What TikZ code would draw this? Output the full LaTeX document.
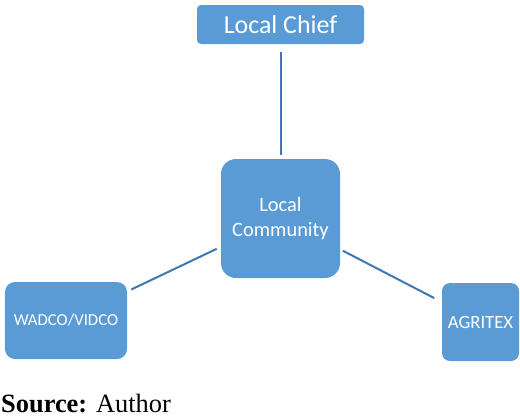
\documentclass[tikz,border=0pt]{standalone}
\usepackage{fontspec}
\setmainfont{Liberation Serif}
\newfontfamily\boxfont{Carlito}
\definecolor{boxblue}{HTML}{5B9BD5}
\definecolor{lineblue}{HTML}{3F77B3}
\begin{document}
\begin{tikzpicture}[x=1bp, y=-1bp]
    \tikzstyle{box}=[fill=boxblue, text=white, inner sep=0pt, align=center, font=\boxfont]
    \tikzstyle{link}=[draw=lineblue, line width=2bp]

    \useasboundingbox (0,0) rectangle (520,417);

    \node[box, rounded corners=4bp, minimum width=167bp, minimum height=39bp,
          font=\boxfont\fontsize{26}{30}\selectfont] (chief) at (280.5, 24.5) {Local Chief};
    \node[box, rounded corners=15bp, minimum width=119bp, minimum height=119bp,
          font=\boxfont\fontsize{20.5}{26}\selectfont] (community) at (280.5, 218.5) {Local\\Community};
    \node[box, rounded corners=10bp, minimum width=122bp, minimum height=77bp,
          font=\boxfont\fontsize{16.8}{20}\selectfont] (wadco) at (66, 320.5) {WADCO/VIDCO};
    \node[box, rounded corners=8bp, minimum width=77bp, minimum height=78bp,
          font=\boxfont\fontsize{18.8}{22}\selectfont] (agritex) at (480.5, 322) {AGRITEX};

    \node[anchor=base west, inner sep=0pt, font=\fontsize{26.5}{30}\selectfont] (source) at (1, 412)
        {\textbf{Source:} Author};

    \path[link, shorten <=8bp, shorten >=4bp] (chief) edge (community);
    \path[link, shorten <=4.5bp, shorten >=4.5bp] (wadco) edge (community);
    \path[link, shorten <=3bp, shorten >=8.5bp] (community) edge (agritex);
  \end{tikzpicture}
\end{document}
